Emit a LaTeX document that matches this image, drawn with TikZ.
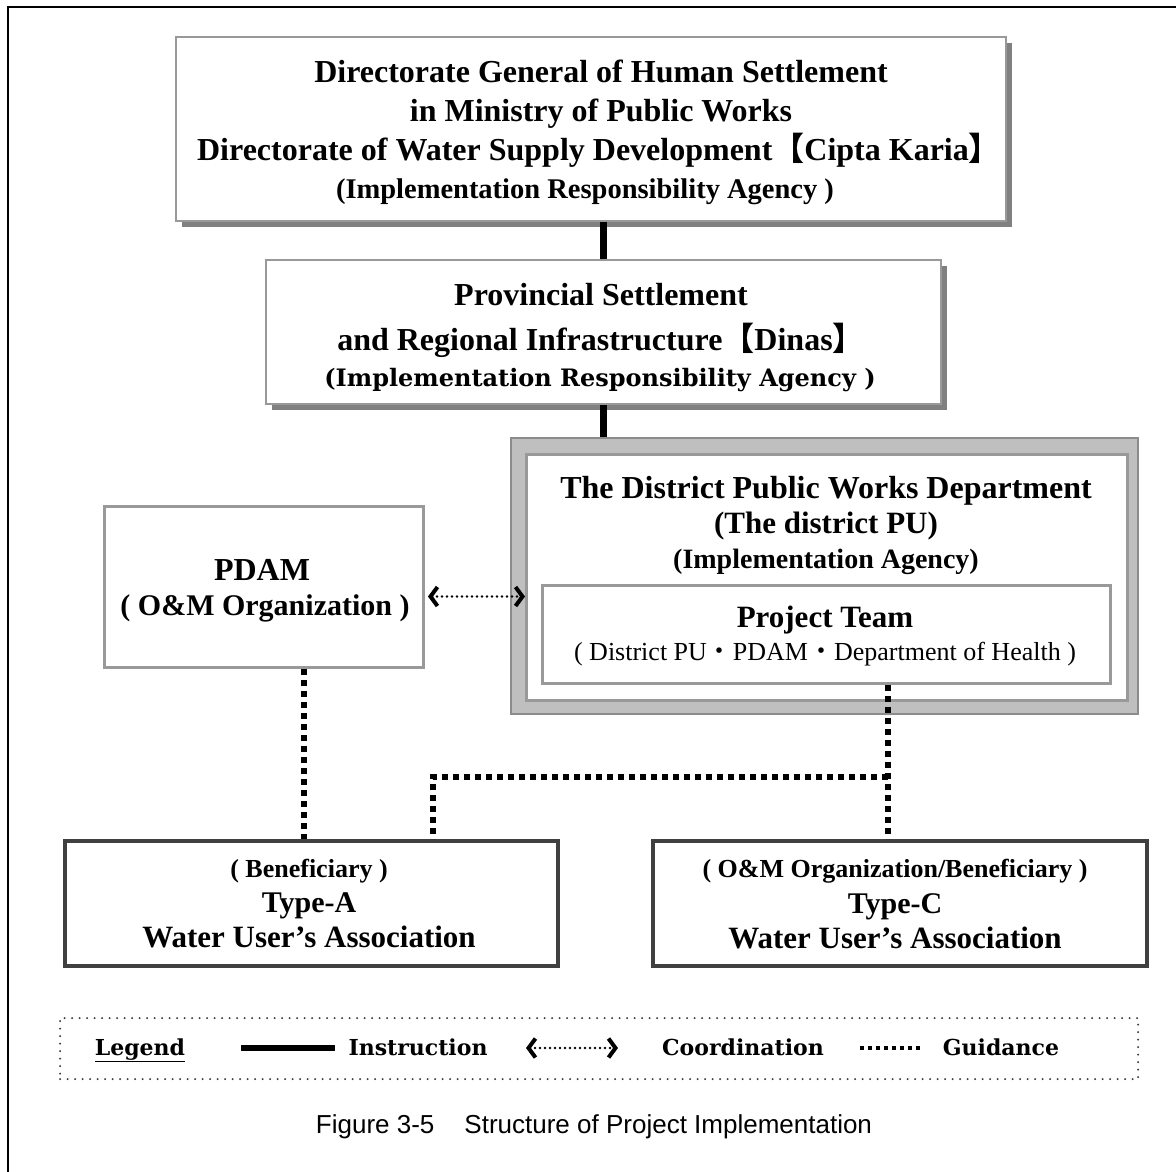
\documentclass[tikz,border=0pt]{standalone}
\usepackage{fontspec}
\setmainfont{Liberation Serif}
\newfontfamily\cjkfont{Noto Sans CJK JP}
\newfontfamily\heavyfont{DejaVu Serif}
\newfontfamily\capfont{Liberation Sans}
\usetikzlibrary{arrows.meta,shadows}
\newcommand\myfs[1]{\fontsize{#1}{#1}\selectfont}
\newcommand\lbr{{\cjkfont 【}}
\newcommand\rbr{{\cjkfont 】}}
\newcommand\mdot{{\cjkfont ・}}
\begin{document}
\begin{tikzpicture}[x=1pt,y=-1pt,
  gbox/.style={draw=black!40, line width=2pt, fill=white, inner sep=0pt, anchor=north west},
  shbox/.style={gbox, drop shadow={shadow xshift=6pt, shadow yshift=-6pt, fill=black!50, opacity=1}},
  dbox/.style={draw=black!75, line width=3.5pt, fill=white, inner sep=0pt, anchor=north west},
  txt/.style={anchor=base, inner sep=0pt},
  bt/.style={txt, font=\bfseries\myfs{#1}},
  ht/.style={txt, font=\heavyfont\bfseries\myfs{#1}},
  instr/.style={line width=7pt},
  guide/.style={line width=6pt, dash pattern=on 6pt off 5pt},
  coordshaft/.style={line width=2.6pt, dash pattern=on 0pt off 5pt, line cap=round, shorten <=4pt, shorten >=4pt},
  coordtips/.style={line width=4pt, dash pattern=on 0pt off 2000pt, line cap=butt,
    {Straight Barb[length=7pt,width=19pt,line width=4pt]}-{Straight Barb[length=7pt,width=19pt,line width=4pt]}}
]
\useasboundingbox (0,0) rectangle (1176,1171);
\fill[white] (0,0) rectangle (1176,1171);
\draw[line width=2.5pt] (8,1200) -- (8,7) -- (1200,7);

% top box
\node[shbox, minimum width=830pt, minimum height=184pt] (top) at (175,36) {};
\node[bt=32] (t1) at (601,82) {Directorate General of Human Settlement};
\node[bt=32] (t2) at (601,121.5) {in Ministry of Public Works};
\node[bt=32] (t3) at (599,160) {Directorate of Water Supply Development\lbr Cipta Karia\rbr};
\node[bt=28.5] (t4) at (585,198) {(Implementation Responsibility Agency )};

% provincial box
\node[shbox, minimum width=675pt, minimum height=144pt] (prov) at (265,259) {};
\node[bt=32] (p1) at (601,305) {Provincial Settlement};
\node[bt=32] (p2) at (601,350) {and Regional Infrastructure\lbr Dinas\rbr};
\node[ht=24] (p3) at (600,386) {(Implementation Responsibility Agency )};

% district box
\node[draw=black!45, line width=1.5pt, fill=black!25, anchor=north west, inner sep=0pt,
      minimum width=627pt, minimum height=276pt] (dist) at (510,437) {};
\node[draw=black!40, line width=3pt, fill=white, anchor=north west, inner sep=0pt,
      minimum width=601pt, minimum height=246pt] (distin) at (525,453) {};
\node[bt=32] (d1) at (826,498) {The District Public Works Department};
\node[bt=31] (d2) at (826,533) {(The district PU)};
\node[bt=28] (d3) at (826,568) {(Implementation Agency)};
\node[draw=black!40, line width=3pt, fill=white, anchor=north west, inner sep=0pt,
      minimum width=568pt, minimum height=98pt] (pt) at (541,584) {};
\node[bt=31] (pt1) at (825,627) {Project Team};
\node[txt, font=\myfs{26}] (pt2) at (825,660) {( District PU\mdot PDAM\mdot Department of Health )};

% PDAM
\node[gbox, line width=3pt, minimum width=319pt, minimum height=161pt] (pdam) at (103,505) {};
\node[bt=32] (pd1) at (262,580) {PDAM};
\node[bt=30] (pd2) at (265,615) {( O\&M Organization )};

% Type A / Type C
\node[dbox, minimum width=493pt, minimum height=125pt] (ta) at (63,839) {};
\node[bt=26] (ta1) at (309,877) {( Beneficiary )};
\node[bt=30] (ta2) at (309,912) {Type-A};
\node[bt=31] (ta3) at (309,947) {Water User's Association};
\node[dbox, minimum width=494pt, minimum height=125pt] (tc) at (651,839) {};
\node[bt=26] (tc1) at (895,877) {( O\&M Organization/Beneficiary )};
\node[bt=30] (tc2) at (895,913) {Type-C};
\node[bt=31] (tc3) at (895,948) {Water User's Association};

% connectors
\draw[instr] (top.south -| prov.north) -- (prov.north);
\draw[instr] (prov.south) -- (prov.south |- dist.north);
\draw[coordshaft] ([xshift=3pt,yshift=-9.5pt]pdam.east) -- ([yshift=-9.5pt]pdam.east -| distin.west);
\draw[coordtips] ([xshift=3pt,yshift=-9.5pt]pdam.east) -- ([yshift=-9.5pt]pdam.east -| distin.west);
\coordinate (j1) at (888,777);
\coordinate (j2) at (433,777);
\coordinate (j3) at (304,777);
\draw[guide] (pdam.south -| j3) -- (j3 |- ta.north);
\draw[guide] (pt.south -| j1) -- (j1 |- tc.north);
\draw[guide] (j1) -- (j2) -- (j2 |- ta.north);

% legend
\node[draw=black!75, line width=2.2pt, dash pattern=on 0pt off 7.5pt, line cap=round,
      anchor=north west, inner sep=0pt, minimum width=1078pt, minimum height=61pt] (leg) at (59,1017) {};
\node[ht=22] (lg) at (140,1055) {\underline{Legend}};
\coordinate (li1) at (241,1048);
\coordinate (li2) at (335,1048);
\draw[line width=6pt] (li1) -- (li2);
\node[ht=22] (lins) at (418,1055) {Instruction};
\coordinate (lc1) at (526,1048);
\coordinate (lc2) at (618,1048);
\draw[coordshaft] (lc1) -- (lc2);
\draw[coordtips] (lc1) -- (lc2);
\node[ht=22] (lcoo) at (743,1055) {Coordination};
\coordinate (lg1) at (860,1048);
\coordinate (lg2) at (923,1048);
\draw[line width=4pt, dash pattern=on 4pt off 4pt] (lg1) -- (lg2);
\node[ht=22] (lgui) at (1001,1055) {Guidance};

% caption
\node[txt, font=\capfont\myfs{26}] (cap) at (594,1133) {Figure 3-5\hspace{30pt}Structure of Project Implementation};
\end{tikzpicture}
\end{document}
